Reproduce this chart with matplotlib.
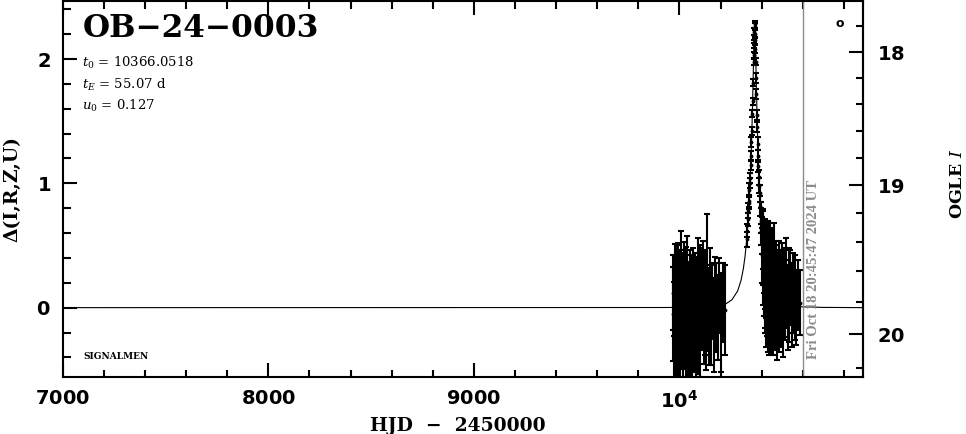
import numpy as np
import matplotlib
matplotlib.use("Agg")
import matplotlib.pyplot as plt
from matplotlib.ticker import MultipleLocator, FixedLocator, FuncFormatter

event = "OB\u221224\u22120003"
t0_txt = "10366.0518"
tE_txt = "55.07 d"
u0_txt = "0.127"
now_hjd = 10602.37
now_txt = "Fri Oct 18 20:45:47 2024 UT"

# OGLE I points: HJD-2450000, delta mag, error
hjd = [9966.6, 9969.5, 9971.6, 9974.7, 9976.5, 9979.6, 9981.5, 9983.7, 9986.6, 9988.5,
       9990.7, 9993.6, 9995.5, 9998.6, 10000.6, 10003.5, 10005.7, 10008.6, 10010.5, 10013.6,
       10015.7, 10018.5, 10020.6, 10023.6, 10025.5, 10028.7, 10030.6, 10033.5, 10035.6, 10038.6,
       10040.5, 10043.7, 10045.6, 10048.5, 10050.6, 10053.5, 10055.7, 10058.6, 10061.5, 10063.6,
       10066.7, 10069.5, 10071.6, 10074.6, 10077.5, 10080.7, 10083.6, 10086.5, 10089.6, 10092.5,
       10095.7, 10099.6, 10102.5, 10106.6, 10110.5, 10114.6, 10118.7, 10122.6, 10127.5, 10132.6,
       10137.5, 10142.6, 10148.5, 10154.6, 10160.6, 10166.5, 10172.6, 10178.5, 10186.6, 10194.5,
       10203.6, 10212.5, 10221.6,
       10328.6, 10330.5, 10332.6, 10334.5, 10336.6, 10338.5, 10340.6, 10342.5, 10344.6, 10346.5,
       10348.6, 10350.5, 10352.6, 10354.5, 10356.6, 10358.5, 10360.6, 10361.5, 10362.6, 10363.5,
       10364.6, 10365.5, 10366.4, 10367.5, 10368.6, 10369.5, 10370.6, 10372.5, 10374.6, 10376.5,
       10378.6, 10380.5, 10382.6, 10384.5, 10386.6, 10388.5, 10390.6, 10392.5, 10394.6, 10396.5,
       10398.6,
       10400.5, 10402.6, 10404.5, 10406.6, 10408.5, 10410.6, 10412.5, 10414.6, 10416.5, 10418.6,
       10420.5, 10422.6, 10424.5, 10426.6, 10428.5, 10430.6, 10432.5, 10434.6, 10436.5, 10438.6,
       10440.5, 10442.6, 10444.5, 10446.6, 10449.5, 10452.6, 10455.5, 10458.6, 10461.5, 10464.6,
       10467.5, 10470.6, 10474.5, 10478.6, 10482.5, 10486.6, 10490.5, 10494.6, 10499.5, 10504.6,
       10509.5, 10514.6, 10520.5, 10526.6, 10532.5, 10538.6, 10545.5, 10552.6, 10560.5, 10568.6,
       10576.5, 10584.6]
dmag = [-0.05, 0.12, -0.21, 0.05, -0.30, 0.18, -0.12, 0.02, -0.25, 0.15,
        -0.08, 0.22, -0.18, 0.04, -0.28, 0.10, -0.06, 0.20, -0.15, 0.00,
        -0.22, 0.14, -0.04, 0.25, -0.10, 0.06, -0.26, 0.12, -0.02, 0.18,
        -0.20, 0.08, -0.12, 0.02, -0.18, 0.16, -0.06, 0.10, -0.24, 0.04,
        0.20, -0.14, 0.08, -0.02, 0.14, -0.20, 0.06, -0.08, 0.24, -0.16,
        0.00, 0.12, -0.22, 0.08, -0.04, 0.18, -0.12, 0.04, -0.18, 0.20,
        0.02, -0.10, 0.14, -0.06, 0.06, -0.14, 0.08, 0.00, -0.08, 0.10,
        -0.12, 0.04, -0.02,
        0.55, 0.62, 0.71, 0.78, 0.86, 0.84, 0.95, 1.00, 1.04, 1.15,
        1.22, 1.33, 1.42, 1.56, 1.66, 1.81, 1.98, 2.03, 2.12, 2.16,
        2.22, 2.26, 2.28, 2.20, 2.15, 2.08, 1.98, 1.85, 1.72, 1.55,
        1.45, 1.32, 1.22, 1.14, 1.05, 0.98, 0.92, 0.82, 0.76, 0.70,
        0.62,
        0.58, 0.42, 0.55, 0.30, 0.48, 0.25, 0.40, 0.18, 0.35, 0.12,
        0.30, 0.08, 0.26, 0.15, 0.00, 0.30, 0.10, 0.24, 0.02, 0.20,
        0.08, 0.28, -0.04, 0.18, 0.06, 0.24, -0.02, 0.16, 0.26, 0.00,
        0.12, 0.22, -0.06, 0.10, 0.20, 0.02, 0.16, 0.04, 0.18, -0.02,
        0.12, 0.06, 0.20, 0.00, 0.10, 0.16, 0.02, 0.12, 0.08, 0.00,
        0.10, 0.04]
err = [0.38, 0.30, 0.42, 0.28, 0.45, 0.33, 0.36, 0.40, 0.30, 0.35,
       0.44, 0.30, 0.38, 0.32, 0.40, 0.36, 0.30, 0.42, 0.34, 0.38,
       0.36, 0.30, 0.45, 0.28, 0.36, 0.40, 0.33, 0.37, 0.31, 0.40,
       0.35, 0.29, 0.43, 0.34, 0.38, 0.30, 0.36, 0.32, 0.40, 0.35,
       0.28, 0.38, 0.33, 0.42, 0.30, 0.36, 0.34, 0.40, 0.32, 0.37,
       0.30, 0.38, 0.34, 0.40, 0.30, 0.36, 0.33, 0.42, 0.32, 0.55,
       0.30, 0.36, 0.34, 0.40, 0.30, 0.38, 0.33, 0.36, 0.34, 0.30,
       0.40, 0.32, 0.36,
       0.06, 0.05, 0.05, 0.06, 0.05, 0.05, 0.05, 0.04, 0.04, 0.04,
       0.04, 0.04, 0.03, 0.03, 0.03, 0.03, 0.03, 0.03, 0.03, 0.03,
       0.03, 0.03, 0.03, 0.03, 0.03, 0.03, 0.03, 0.04, 0.04, 0.04,
       0.04, 0.05, 0.05, 0.05, 0.06, 0.06, 0.07, 0.08, 0.09, 0.10,
       0.12,
       0.15, 0.22, 0.24, 0.28, 0.30, 0.32, 0.28, 0.34, 0.36, 0.32,
       0.38, 0.40, 0.35, 0.38, 0.36, 0.40, 0.34, 0.38, 0.40, 0.32,
       0.36, 0.40, 0.33, 0.38, 0.34, 0.40, 0.36, 0.30, 0.42, 0.34,
       0.38, 0.32, 0.36, 0.36, 0.34, 0.38, 0.30, 0.36, 0.34, 0.38,
       0.36, 0.32, 0.36, 0.34, 0.38, 0.30, 0.34, 0.32, 0.34, 0.30,
       0.28, 0.26]

# model curve
model_t = [7000, 9900, 10035.6, 10145.8, 10200.9, 10228.4, 10255.9, 10283.4, 10300.0, 10311.0,
           10319.3, 10327.5, 10333.0, 10338.5, 10344.0, 10349.5, 10352.3, 10355.0, 10357.8, 10360.5,
           10363.3, 10366.05, 10368.8, 10371.6, 10374.3, 10377.1, 10379.8, 10382.6, 10388.1, 10393.6,
           10399.1, 10404.6, 10412.9, 10421.1, 10432.2, 10448.7, 10476.2, 10503.8, 10531.3, 10586.4,
           10696.5, 10893]
model_d = [0.0, 0.001, 0.002, 0.007, 0.018, 0.033, 0.064, 0.135, 0.221, 0.314,
           0.414, 0.550, 0.669, 0.819, 1.011, 1.260, 1.412, 1.586, 1.782, 1.989,
           2.170, 2.247, 2.170, 1.989, 1.782, 1.586, 1.412, 1.260, 1.011, 0.819,
           0.669, 0.550, 0.414, 0.314, 0.221, 0.135, 0.064, 0.033, 0.018, 0.007,
           0.002, 0.0]

# right axis: OGLE I magnitude
I_base = 19.837
blend = 0.215


def d2m(d):
    d = np.asarray(d, float)
    return I_base - 2.5 * np.log10(blend + (1 - blend) * 10 ** (0.4 * d))


def m2d(m):
    m = np.asarray(m, float)
    f = np.clip(10 ** (-0.4 * (m - I_base)) - blend, 1e-6, None)
    return 2.5 * np.log10(f / (1 - blend))


def bold_int(v, p):
    if v == 10000:
        return r'$\mathbf{10^4}$'
    return r'$\mathbf{%d}$' % round(v)


plt.rcParams['font.family'] = 'DejaVu Sans'

fig = plt.figure(figsize=(9.66, 4.34), dpi=100)
ax = fig.add_axes([62.7 / 966, 1 - 377 / 434, (863 - 62.7) / 966, 376 / 434])

ax.plot(model_t, model_d, color='k', lw=0.8)
ax.errorbar(hjd, dmag, yerr=err, fmt='.', color='k', ms=3.5,
            elinewidth=1.5, capsize=2, capthick=1.5)
ax.axvline(now_hjd, color='#8c8c8c', lw=1)

ax.set_xlim(7000, 10893)
ax.set_ylim(-0.558, 2.467)
ax.xaxis.set_major_locator(MultipleLocator(1000))
ax.xaxis.set_minor_locator(MultipleLocator(200))
ax.yaxis.set_major_locator(MultipleLocator(1))
ax.yaxis.set_minor_locator(MultipleLocator(0.2))
ax.xaxis.set_major_formatter(FuncFormatter(bold_int))
ax.yaxis.set_major_formatter(FuncFormatter(bold_int))
ax.tick_params(which='both', direction='in', top=True, right=False, width=1.5, labelsize=14)
ax.tick_params(which='major', length=10)
ax.tick_params(which='minor', length=5.4)
ax.tick_params(axis='x', pad=9)
ax.tick_params(axis='y', pad=8.5)
for s in ax.spines.values():
    s.set_linewidth(1.5)

sec = ax.secondary_yaxis('right', functions=(d2m, m2d))
sec.yaxis.set_major_locator(FixedLocator([18, 19, 20]))
sec.yaxis.set_minor_locator(FixedLocator(np.arange(17.8, 20.3, 0.2)))
sec.yaxis.set_major_formatter(FuncFormatter(bold_int))
sec.tick_params(which='both', direction='in', width=1.5, labelsize=14, pad=10)
sec.tick_params(which='major', length=10)
sec.tick_params(which='minor', length=5.4)
sec.spines['right'].set_linewidth(1.5)

ax.text(0.0254, 0.904, event, transform=ax.transAxes, family='DejaVu Serif',
        fontsize=22.5, weight='bold', va='baseline')
for yy, lab in [(0.824, r'$t_0$ = ' + t0_txt), (0.766, r'$t_E$ = ' + tE_txt),
                (0.710, r'$u_0$ = ' + u0_txt)]:
    ax.text(0.024, yy, lab, transform=ax.transAxes, family='DejaVu Serif',
            math_fontfamily='dejavuserif', fontsize=9.5, va='baseline')
ax.text(0.0254, 0.048, "SIGNALMEN", transform=ax.transAxes, family='DejaVu Serif',
        weight='bold', fontsize=6.5, va='baseline')
ax.text(0.971, 0.941, "o", transform=ax.transAxes, ha='center', va='center',
        fontsize=9, weight='bold')
ax.annotate(now_txt, xy=(now_hjd, 0.31), xytext=(7.2, 0), textcoords='offset points',
            rotation=90, ha='center', va='center', color='#8c8c8c',
            family='Liberation Serif', weight='bold', fontsize=10.5)

fig.text(12 / 966, 1 - 189.5 / 434, "\u0394(I,R,Z,U)", rotation=90, ha='center', va='center',
         family='DejaVu Serif', weight='bold', fontsize=13.5)
fig.text(458 / 966, 1 - 431 / 434, "HJD  \u2212  2450000", ha='center', va='baseline',
         family='DejaVu Serif', weight='bold', fontsize=13.5)
fig.text(957 / 966, 1 - 184 / 434, r"OGLE $I$", rotation=90, ha='center', va='center',
         family='DejaVu Serif', math_fontfamily='dejavuserif', weight='bold', fontsize=12.5)

fig.savefig("out.png", dpi=100)
